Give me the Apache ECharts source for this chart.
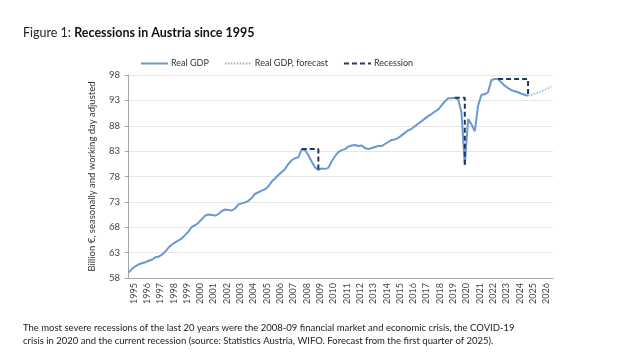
<!DOCTYPE html>
<html>
<head>
<meta charset="utf-8">
<script src="https://cdn.jsdelivr.net/npm/echarts@6/dist/echarts.min.js"></script>
<style>
  html, body { margin: 0; padding: 0; background: #fff; }
  #chart { width: 640px; height: 354px; }
</style>
</head>
<body>
<div id="chart"></div>
<script>
// years on the category axis
const years = []
for (let y = 1995; y <= 2026; y++) years.push(String(y))

// quarterly real GDP, 1995Q1 .. 2025Q1 (index 0 .. 120), bn €
const gdp = [
  59.1, 59.8, 60.3, 60.7, 60.9, 61.1, 61.4, 61.6, 62.1, 62.2,
  62.6, 63.2, 64.0, 64.6, 65.0, 65.4, 65.8, 66.5, 67.2, 68.1,
  68.4, 68.9, 69.6, 70.3, 70.5, 70.4, 70.3, 70.6, 71.2, 71.5,
  71.4, 71.3, 71.7, 72.5, 72.7, 72.9, 73.2, 73.8, 74.6, 74.9,
  75.2, 75.5, 76.1, 77.0, 77.6, 78.3, 78.9, 79.5, 80.5, 81.2,
  81.6, 81.8, 83.4, 83.2, 82.2, 80.9, 79.8, 79.3, 79.6, 79.5,
  79.7, 81.0, 82.0, 82.8, 83.2, 83.4, 83.9, 84.1, 84.2, 84.0,
  84.1, 83.6, 83.4, 83.6, 83.8, 84.0, 84.0, 84.4, 84.8, 85.2,
  85.3, 85.6, 86.1, 86.6, 87.1, 87.4, 87.9, 88.4, 88.9, 89.4,
  89.9, 90.3, 90.8, 91.2, 92.0, 92.8, 93.4, 93.4, 93.5, 93.2,
  90.6, 80.3, 89.3, 88.3, 86.9, 92.0, 94.1, 94.2, 94.6, 97.0,
  97.2, 97.2, 96.5, 95.9, 95.4, 95.0, 94.8, 94.6, 94.3, 94.1,
  93.9
]
// forecast 2025Q1 .. 2026Q4 (index 120 .. 127)
const forecastStart = 120
const forecast = [93.9, 94.1, 94.3, 94.5, 94.8, 95.1, 95.4, 95.7]

// recessions: [peak quarter index, trough quarter index]
const recessions = [[52, 57], [98, 101], [111, 120]]

// y axis
const yMin = 58
const yMax = 98
const yStep = 5

const gdpData = gdp.map((v, i) => [i, v])
const forecastData = forecast.map((v, i) => [forecastStart + i, v])
const recessionData = []
recessions.forEach(([s, e], k) => {
  if (k > 0) recessionData.push('-')
  recessionData.push([s, gdp[s]], [e, gdp[s]], [e, gdp[e]])
})

const font = 'Lato, "Open Sans", sans-serif'
const chart = echarts.init(document.getElementById('chart'), null, { renderer: 'canvas' })

chart.setOption({
  animation: false,
  textStyle: { fontFamily: font },
  title: [
    {
      left: 18,
      top: 21,
      text: '{a|Figure 1: }{b|Recessions in Austria since 1995}',
      textStyle: {
        rich: {
          a: { fontSize: 12.5, color: '#222', fontWeight: 'normal', fontFamily: font },
          b: { fontSize: 12.5, color: '#111', fontWeight: 'bold', fontFamily: font }
        }
      }
    },
    {
      left: 18,
      top: 316,
      text: 'The most severe recessions of the last 20 years were the 2008-09 financial market and economic crisis, the COVID-19\ncrisis in 2020 and the current recession (source: Statistics Austria, WIFO. Forecast from the first quarter of 2025).',
      textStyle: { fontSize: 9.5, fontWeight: 'normal', color: '#222', lineHeight: 13, fontFamily: font }
    }
  ],
  legend: {
    left: 135,
    top: 54,
    itemWidth: 27,
    itemHeight: 10,
    itemGap: 15,
    itemStyle: { opacity: 0 },
    textStyle: { fontSize: 9, color: '#333', padding: [0, 0, 0, -2] },
    data: ['Real GDP', 'Real GDP, forecast', 'Recession']
  },
  grid: { left: 127, right: 87, top: 75, bottom: 76 },
  xAxis: [
    {
      type: 'category',
      data: years,
      boundaryGap: true,
      axisLine: { lineStyle: { color: '#a6a6a6' } },
      axisTick: { interval: 0, length: 4, lineStyle: { color: '#a6a6a6' } },
      axisLabel: { interval: 0, rotate: 90, fontSize: 9, color: '#444', margin: 5 }
    },
    {
      type: 'value',
      min: -0.5,
      max: 127.5,
      show: false
    }
  ],
  yAxis: {
    type: 'value',
    min: yMin,
    max: yMax,
    interval: yStep,
    name: 'Billion €, seasonally and working day adjusted',
    nameLocation: 'middle',
    nameRotate: 90,
    nameGap: 30,
    nameTextStyle: { fontSize: 9.5, color: '#333' },
    axisLine: { show: true, lineStyle: { color: '#a6a6a6' } },
    axisTick: { show: true, length: 4, lineStyle: { color: '#a6a6a6' } },
    axisLabel: { fontSize: 9.5, color: '#444', margin: 7 },
    splitLine: { lineStyle: { color: '#e6e6e6' } }
  },
  series: [
    {
      name: 'Real GDP',
      type: 'line',
      xAxisIndex: 1,
      data: gdpData,
      symbol: 'none',
      lineStyle: { color: '#6b99cf', width: 2 },
      itemStyle: { color: '#6b99cf' },
      z: 2
    },
    {
      name: 'Real GDP, forecast',
      type: 'line',
      xAxisIndex: 1,
      data: forecastData,
      symbol: 'none',
      lineStyle: { color: '#8fb3dc', width: 1.5, type: [1.5, 1.5] },
      itemStyle: { color: '#8fb3dc' },
      z: 2
    },
    {
      name: 'Recession',
      type: 'line',
      xAxisIndex: 1,
      data: recessionData,
      symbol: 'none',
      lineStyle: { color: '#1f3864', width: 2, type: [5, 3] },
      itemStyle: { color: '#1f3864' },
      z: 3
    }
  ]
})
</script>
</body>
</html>
